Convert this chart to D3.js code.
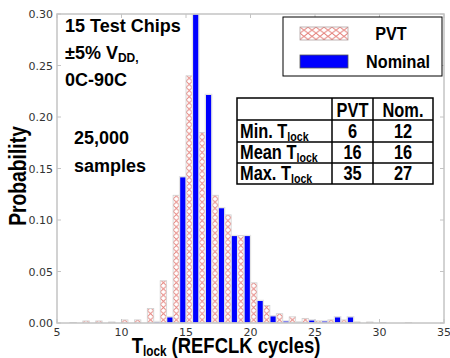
<!DOCTYPE html>
<html>
<head>
<meta charset="utf-8">
<script src="https://cdn.jsdelivr.net/npm/d3@7"></script>
<style>
  body { margin: 0; background: #fff; }
  svg { display: block; }
</style>
</head>
<body>
<svg id="chart" width="450" height="358"></svg>
<script>
// histogram bins (lower edge of each one-cycle bin)
const bins = [6, 7, 8, 9, 10, 11, 12, 13, 14, 15, 16, 17, 18, 19, 20,
              21, 22, 23, 24, 25, 26, 27, 28, 29, 30, 31, 32, 33, 34, 35]
const pvt = [0.0005, 0.002, 0.002, 0.001, 0.003, 0.003, 0.014, 0.041, 0.124, 0.240, 0.185, 0.124, 0.105, 0.085, 0.039,
             0.017, 0.009, 0.006, 0.0045, 0.002, 0.003, 0.003, 0.001, 0.001, 0.0005, 0, 0.0003, 0, 0, 0.0003]
const nominal = [0, 0, 0, 0, 0, 0, 0.0015, 0.006, 0.142, 0.300, 0.222, 0.112, 0.085, 0.085, 0.022,
                 0.007, 0.002, 0.0013, 0.003, 0.002, 0.006, 0.006, 0, 0, 0, 0, 0, 0, 0, 0]
const xTicks = [5, 10, 15, 20, 25, 30, 35]
const yTicks = [0, 0.05, 0.10, 0.15, 0.20, 0.25, 0.30]
const seriesNames = ['PVT', 'Nominal']
const tableHead = ['', 'PVT', 'Nom.']
const tableRows = [
    { label: 'Min. ', pvt: '6', nom: '12' },
    { label: 'Mean ', pvt: '16', nom: '16' },
    { label: 'Max. ', pvt: '35', nom: '27' }
]

const svg = d3.select('#chart')
const pLeft = 57, pRight = 444, pTop = 14, pBottom = 323

const x = d3.scaleLinear().domain([5, 35]).range([pLeft, pRight])
const y = d3.scaleLinear().domain([0, 0.30]).range([pBottom, pTop])

const hatchColor = '#e4807a'
const defs = svg.append('defs')
defs.append('clipPath').attr('id', 'plotClip')
    .append('rect').attr('x', pLeft).attr('y', pTop).attr('width', pRight - pLeft).attr('height', pBottom - pTop)

function hatchPattern(id, x0, y0, w) {
    const p = defs.append('pattern')
        .attr('id', id)
        .attr('patternUnits', 'userSpaceOnUse')
        .attr('x', x0).attr('y', y0)
        .attr('width', w).attr('height', 6.2)
    p.append('path')
        .attr('d', `M0,0L${w},6.2M${w},0L0,6.2`)
        .attr('stroke', hatchColor)
        .attr('stroke-width', 0.9)
        .attr('fill', 'none')
}

const halfW = x(5.5) - x(5)
const plot = svg.append('g').attr('clip-path', 'url(#plotClip)')

// PVT bars (hatched)
bins.forEach((b, i) => {
    hatchPattern(`hatch-${i}`, x(b), pBottom, halfW)
})
plot.selectAll('rect.pvt')
    .data(bins)
    .enter()
    .append('rect')
    .attr('class', 'pvt')
    .attr('x', d => x(d))
    .attr('y', (d, i) => y(pvt[i]))
    .attr('width', halfW)
    .attr('height', (d, i) => pBottom - y(pvt[i]))
    .style('fill', (d, i) => `url(#hatch-${i})`)
    .style('stroke', '#cfcfcf')
    .style('stroke-width', 0.8)

// Nominal bars
plot.selectAll('rect.nom')
    .data(bins)
    .enter()
    .append('rect')
    .attr('class', 'nom')
    .attr('x', d => x(d + 0.5))
    .attr('y', (d, i) => y(nominal[i]))
    .attr('width', halfW)
    .attr('height', (d, i) => pBottom - y(nominal[i]))
    .style('fill', '#0000ff')
    .style('stroke', '#e4e4e4')
    .style('stroke-width', 1.3)

// frame
const frameColor = '#c4c4c4'
svg.append('rect')
    .attr('x', pLeft).attr('y', pTop)
    .attr('width', pRight - pLeft).attr('height', pBottom - pTop)
    .style('fill', 'none')
    .style('stroke', frameColor)
    .style('stroke-width', 1.5)

// inward ticks
const tickG = svg.append('g').style('stroke', frameColor).style('stroke-width', 1)
xTicks.forEach(t => {
    tickG.append('line').attr('x1', x(t)).attr('x2', x(t)).attr('y1', pTop).attr('y2', pTop + 4)
    tickG.append('line').attr('x1', x(t)).attr('x2', x(t)).attr('y1', pBottom).attr('y2', pBottom - 4)
})
yTicks.forEach(t => {
    tickG.append('line').attr('x1', pLeft).attr('x2', pLeft + 4).attr('y1', y(t)).attr('y2', y(t))
    tickG.append('line').attr('x1', pRight).attr('x2', pRight - 4).attr('y1', y(t)).attr('y2', y(t))
})

// tick labels
const tickFont = 'DejaVu Sans, sans-serif'
svg.selectAll('text.xt')
    .data(xTicks)
    .enter()
    .append('text')
    .attr('x', d => x(d))
    .attr('y', pBottom + 13)
    .attr('text-anchor', 'middle')
    .style('font-family', tickFont)
    .style('font-size', '11px')
    .style('fill', '#333')
    .text(d => d)

svg.selectAll('text.yt')
    .data(yTicks)
    .enter()
    .append('text')
    .attr('x', pLeft - 4)
    .attr('y', d => y(d) + 4)
    .attr('text-anchor', 'end')
    .style('font-family', tickFont)
    .style('font-size', '11px')
    .style('fill', '#333')
    .text(d => d.toFixed(2))

const boldFont = '"Liberation Sans", Arial, sans-serif'

// axis labels (condensed bold)
const xl = svg.append('text')
    .attr('transform', `translate(226,353) scale(0.84,1)`)
    .attr('text-anchor', 'middle')
    .style('font-family', boldFont)
    .style('font-weight', 'bold')
    .style('font-size', '22px')
xl.append('tspan').text('T')
xl.append('tspan').attr('dy', 3).style('font-size', '14px').text('lock')
xl.append('tspan').attr('dy', -3).text(' (REFCLK cycles)')

svg.append('text')
    .attr('transform', `translate(26,176) rotate(-90) scale(0.84,1)`)
    .attr('text-anchor', 'middle')
    .style('font-family', boldFont)
    .style('font-weight', 'bold')
    .style('font-size', '23px')
    .text('Probability')

// annotations
const ann = svg.append('g')
    .style('font-family', boldFont)
    .style('font-weight', 'bold')
    .style('font-size', '18px')
ann.append('text').attr('x', 65).attr('y', 32).text('15 Test Chips')
const vdd = ann.append('text').attr('x', 65).attr('y', 59)
vdd.append('tspan').text('±5% V')
vdd.append('tspan').attr('dy', 3).style('font-size', '12px').text('DD,')
ann.append('text').attr('x', 65).attr('y', 86).text('0C-90C')
ann.append('text').attr('x', 74).attr('y', 144).text('25,000')
ann.append('text').attr('x', 74).attr('y', 172).text('samples')

// legend
const leg = svg.append('g')
leg.append('rect')
    .attr('x', 283).attr('y', 17).attr('width', 159).attr('height', 59)
    .style('fill', '#fff').style('stroke', '#000').style('stroke-width', 1)
hatchPattern('hatch-legend', 300, 27, 8)
leg.append('rect')
    .attr('x', 300).attr('y', 27).attr('width', 48).attr('height', 13)
    .style('fill', 'url(#hatch-legend)').style('stroke', '#b0a0a0').style('stroke-width', 0.8)
leg.append('rect')
    .attr('x', 300).attr('y', 55).attr('width', 48).attr('height', 13)
    .style('fill', '#0000ff').style('stroke', '#555').style('stroke-width', 0.8)
leg.selectAll('text')
    .data(seriesNames)
    .enter()
    .append('text')
    .attr('transform', (d, i) => `translate(${i === 0 ? 391 : 398},${i === 0 ? 40 : 68}) scale(0.9,1)`)
    .attr('text-anchor', 'middle')
    .style('font-family', boldFont)
    .style('font-weight', 'bold')
    .style('font-size', '18px')
    .text(d => d)

// stats table
const colX = [237, 332, 373, 433]
const rowY = [98, 120, 142, 163, 184]
const tbl = svg.append('g')
tbl.append('rect')
    .attr('x', colX[0]).attr('y', rowY[0])
    .attr('width', colX[3] - colX[0]).attr('height', rowY[4] - rowY[0])
    .style('fill', '#fff').style('stroke', '#000').style('stroke-width', 1.5)
rowY.slice(1, 4).forEach(r => {
    tbl.append('line').attr('x1', colX[0]).attr('x2', colX[3]).attr('y1', r).attr('y2', r)
        .style('stroke', '#000').style('stroke-width', 1.6)
})
colX.slice(1, 3).forEach(c => {
    tbl.append('line').attr('x1', c).attr('x2', c).attr('y1', rowY[0]).attr('y2', rowY[4])
        .style('stroke', '#000').style('stroke-width', 1.5)
})

function condensed(g, cx, cy, anchor, sx) {
    return g.append('text')
        .attr('transform', `translate(${cx},${cy}) scale(${sx},1)`)
        .attr('text-anchor', anchor)
        .style('font-family', boldFont)
        .style('font-weight', 'bold')
        .style('font-size', '20px')
}
const midPvt = (colX[1] + colX[2]) / 2, midNom = (colX[2] + colX[3]) / 2
condensed(tbl, midPvt, rowY[1] - 3, 'middle', 0.82).text(tableHead[1])
condensed(tbl, midNom, rowY[1] - 3, 'middle', 0.82).text(tableHead[2])
tableRows.forEach((r, i) => {
    const base = rowY[i + 2] - 4
    const t = condensed(tbl, colX[0] + 3, base, 'start', 0.82)
    t.append('tspan').text(r.label + 'T')
    t.append('tspan').attr('dy', 3).style('font-size', '13px').text('lock')
    condensed(tbl, midPvt, base, 'middle', 0.82).text(r.pvt)
    condensed(tbl, midNom, base, 'middle', 0.82).text(r.nom)
})
</script>
</body>
</html>
